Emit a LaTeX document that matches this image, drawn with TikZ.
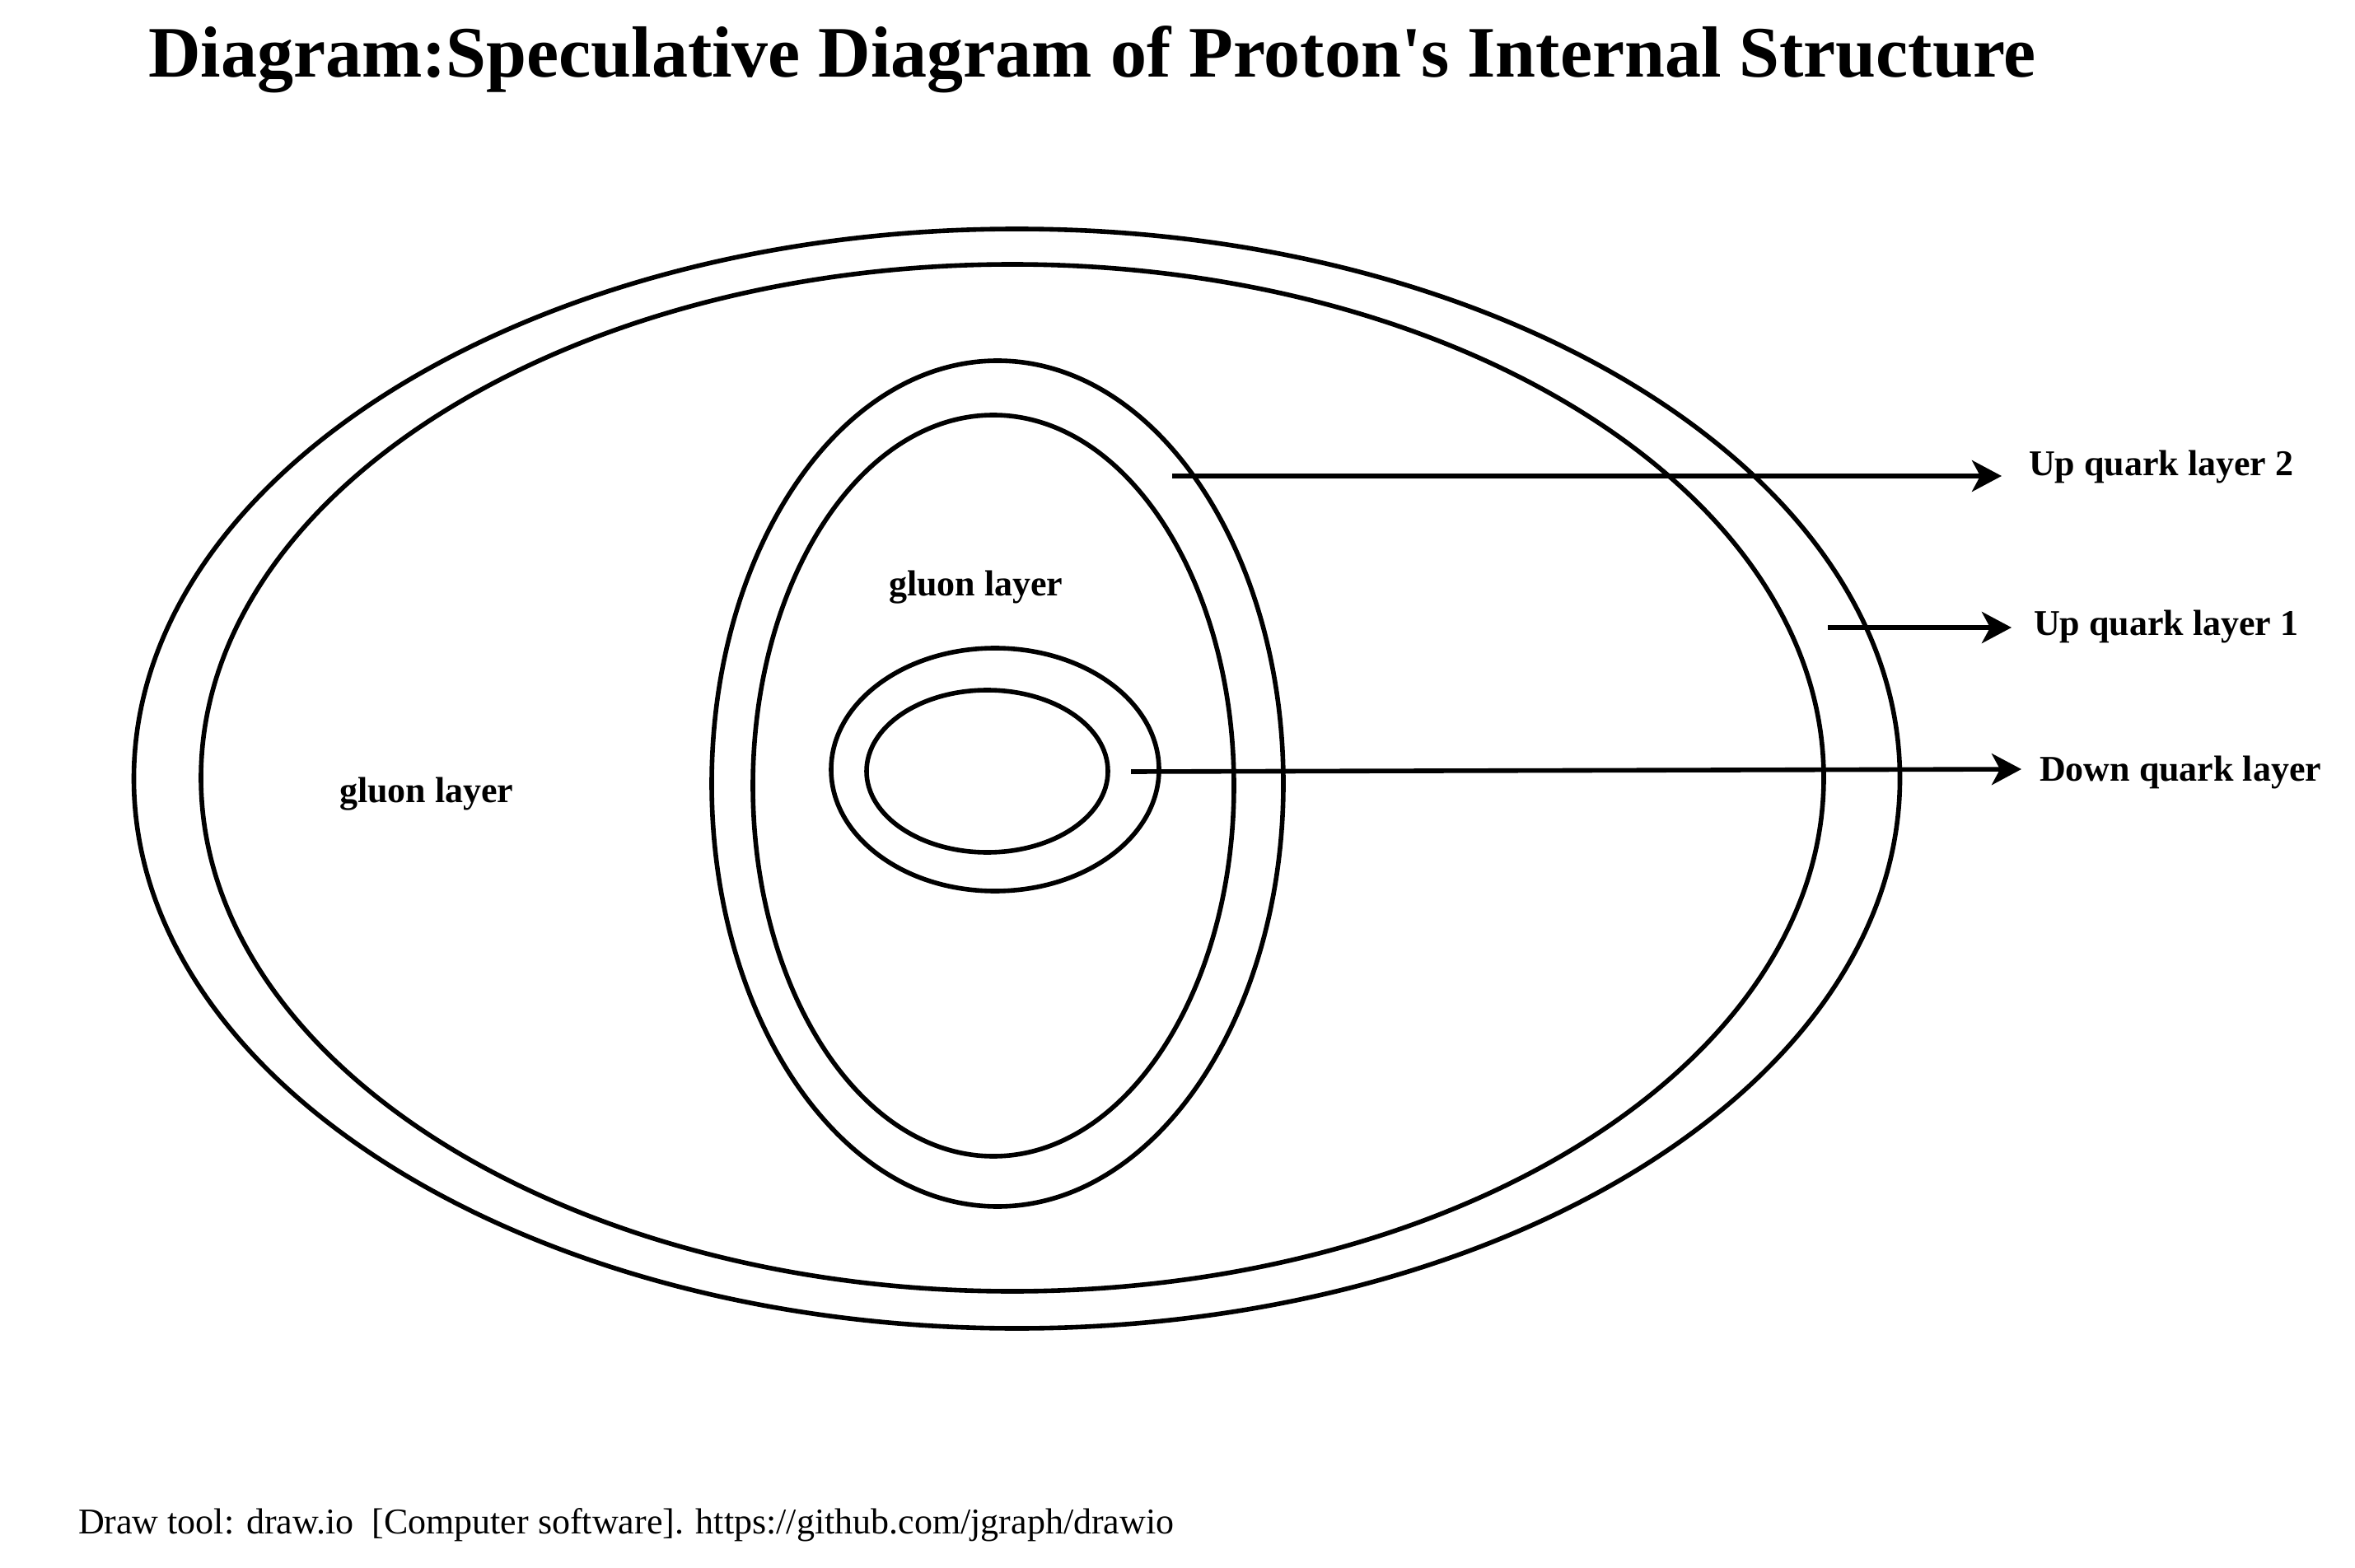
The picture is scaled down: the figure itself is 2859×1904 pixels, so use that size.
\documentclass[tikz,border=0pt]{standalone}
\usepackage{fontspec}
\setmainfont[Ligatures=TeXOff]{Liberation Serif}
\usetikzlibrary{shapes.geometric,arrows.meta}
\begin{document}
\begin{tikzpicture}[x=0.25pt,y=-0.25pt,
  shell/.style={draw=black,line width=1.4pt,ellipse,inner sep=0pt,outer sep=0pt},
  pointer/.style={draw=black,line width=1.4pt,-{Stealth[length=9pt,width=9.5pt,inset=2.5pt]}},
  lab/.style={inner sep=0pt,outer sep=0pt,font=\fontsize{11}{13}\selectfont\bfseries},
  titletext/.style={inner sep=0pt,outer sep=0pt,font=\fontsize{22}{26}\selectfont\bfseries},
  foot/.style={inner sep=0pt,outer sep=0pt,font=\fontsize{11}{13}\selectfont}]
\useasboundingbox (0,0) rectangle (2859,1904);
\fill[white] (0,0) rectangle (2859,1904);

% title
\node[titletext,anchor=base west] (title) at (180,94) {Diagram:Speculative Diagram of Proton's Internal Structure};

% shells
\node[shell,minimum width=536pt,minimum height=333.75pt] (e1) at (1234.5,945.5) {};
\node[shell,minimum width=492.5pt,minimum height=311.75pt] (e2) at (1229,944.5) {};
\node[shell,minimum width=173.5pt,minimum height=256.75pt] (e3) at (1211,951.5) {};
\node[shell,minimum width=146pt,minimum height=225pt] (e4) at (1206,954) {};
\node[shell,minimum width=99.5pt,minimum height=73.75pt] (e5) at (1208,934.5) {};
\node[shell,minimum width=73.25pt,minimum height=49.25pt] (e6) at (1198.5,936.5) {};

% inner labels
\node[lab,anchor=base west] (g1) at (412,974) {gluon layer};
\node[lab,anchor=base west] (g2) at (1079,723) {gluon layer};

% arrow ends
\coordinate (s1) at (1423,578);
\coordinate (t1) at (2430,578);
\coordinate (s2) at (2219,762);
\coordinate (t2) at (2442,762);
\coordinate (s3) at (1373,937);
\coordinate (t3) at (2454,934);

\draw[pointer] (s1) -- (t1);
\draw[pointer] (s2) -- (t2);
\draw[pointer] (s3) -- (t3);

\node[lab,anchor=base west] (l1) at (2463,578) {Up quark layer 2};
\node[lab,anchor=base west] (l2) at (2469,772) {Up quark layer 1};
\node[lab,anchor=base west] (l3) at (2476,948) {Down quark layer};

% footer
\node[foot,anchor=base west] (footer) at (95,1862) {Draw tool: draw.io\ \ [Computer software]. https://github.com/jgraph/drawio};
\end{tikzpicture}
\end{document}
